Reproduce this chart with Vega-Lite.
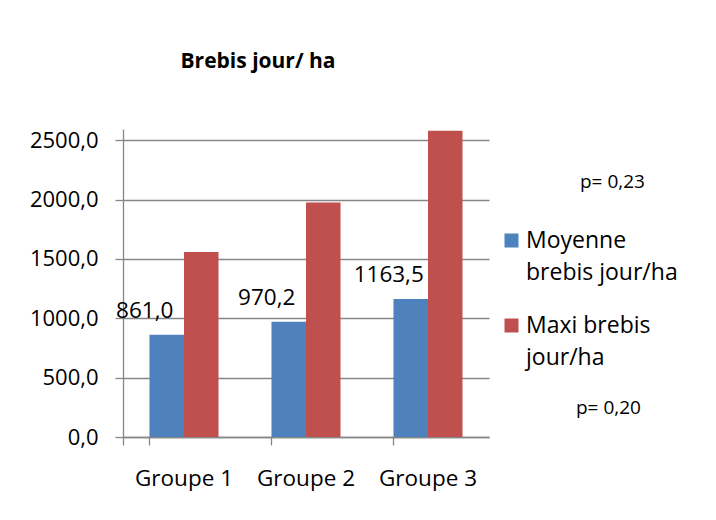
{
  "$schema": "https://vega.github.io/schema/vega-lite/v6.json",
  "width": 366,
  "height": 308,
  "autosize": "none",
  "padding": {"left": 123, "top": 129, "right": 227, "bottom": 83},
  "background": "white",
  "config": {
    "locale": {"number": {"decimal": ",", "thousands": " ", "grouping": [3], "currency": ["", " €"]}},
    "font": "Open Sans",
    "view": {"stroke": null},
    "axis": {"domainColor": "#868686", "tickColor": "#868686", "gridColor": "#868686", "labelColor": "black", "labelFont": "Open Sans", "tickSize": 8, "domainWidth": 1.3, "gridWidth": 1.3, "tickWidth": 1.3}
  },
  "title": {"text": "Brebis jour/ ha", "fontSize": 21, "fontWeight": "bold", "font": "Open Sans", "color": "black", "anchor": "middle", "dx": -48, "offset": 57},
  "data": {"values": [
    {"groupe": "Groupe 1", "serie": "Moyenne brebis jour/ha", "valeur": 861.0},
    {"groupe": "Groupe 1", "serie": "Maxi brebis jour/ha", "valeur": 1559},
    {"groupe": "Groupe 2", "serie": "Moyenne brebis jour/ha", "valeur": 970.2},
    {"groupe": "Groupe 2", "serie": "Maxi brebis jour/ha", "valeur": 1975},
    {"groupe": "Groupe 3", "serie": "Moyenne brebis jour/ha", "valeur": 1163.5},
    {"groupe": "Groupe 3", "serie": "Maxi brebis jour/ha", "valeur": 2581}
  ]},
  "encoding": {
    "x": {"field": "groupe", "type": "nominal", "sort": null,
      "scale": {"paddingInner": 0.434, "paddingOuter": 0.217},
      "axis": {"title": null, "labelAngle": 0, "labelFontSize": 22.5, "labelPadding": 22, "bandPosition": 0, "tickExtra": true, "grid": false}},
    "xOffset": {"field": "serie", "type": "nominal", "scale": {"domain": ["Moyenne brebis jour/ha", "Maxi brebis jour/ha"], "paddingInner": 0}},
    "y": {"field": "valeur", "type": "quantitative",
      "scale": {"domain": [0, 2595], "nice": false, "zero": true},
      "axis": {"title": null, "values": [0, 500, 1000, 1500, 2000, 2500], "format": ".1f", "labelFontSize": 22, "labelPadding": 17, "grid": true}}
  },
  "layer": [
    {
      "mark": {"type": "bar"},
      "encoding": {
        "fill": {"field": "serie", "type": "nominal",
          "scale": {"domain": ["Moyenne brebis jour/ha", "Maxi brebis jour/ha"], "range": ["#4F81BD", "#C0504D"]},
          "legend": {
            "title": "p= 0,23", "orient": "none", "legendX": 377, "legendY": 44, "padding": 0,
            "titleFontSize": 19, "titleFontWeight": "normal", "titleColor": "black", "titleFont": "Open Sans", "titlePadding": 37,
            "symbolType": "square", "symbolSize": 196, "symbolStrokeWidth": 0,
            "labelFontSize": 23, "labelColor": "black", "labelFont": "Open Sans", "labelOffset": 3, "labelLimit": 300,
            "labelExpr": "datum.label == 'Moyenne brebis jour/ha' ? ['Moyenne', 'brebis jour/ha'] : ['Maxi brebis', 'jour/ha']",
            "rowPadding": 29,
            "encode": {
              "title": {"update": {"dx": {"value": 80}}},
              "labels": {"update": {"lineHeight": {"value": 32}}}
            }
          }
        }
      }
    },
    {
      "transform": [{"filter": "datum.serie == 'Moyenne brebis jour/ha'"}],
      "mark": {"type": "text", "dx": -22, "dy": -17, "baseline": "alphabetic", "align": "center", "fontSize": 22.5, "font": "Open Sans", "color": "black"},
      "encoding": {
        "text": {"field": "valeur", "type": "quantitative", "format": ".1f"},
        "opacity": {"datum": "p= 0,20", "type": "nominal", "scale": {"range": [1, 1]},
          "legend": {"title": "p= 0,20", "orient": "none", "legendX": 453, "legendY": 270, "padding": 0,
            "titleFontSize": 19, "titleFontWeight": "normal", "titleColor": "black", "titleFont": "Open Sans",
            "symbolOpacity": 0, "symbolSize": 0, "labelExpr": "''", "labelFontSize": 1}}
      }
    }
  ]
}
